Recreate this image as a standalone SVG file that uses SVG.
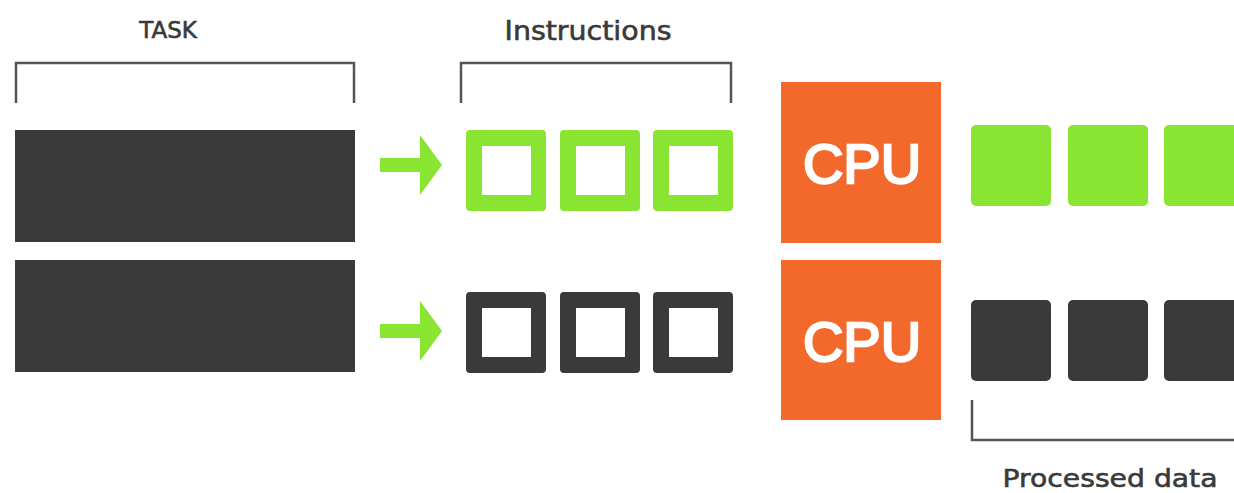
<svg xmlns="http://www.w3.org/2000/svg" width="1234" height="493" viewBox="0 0 1234 493">
<style>
.lbl{font-family:"DejaVu Sans","Liberation Sans",sans-serif;fill:#3a3a3a;text-anchor:middle;stroke:#3a3a3a;stroke-width:0.6}
.brk{fill:none;stroke:#555;stroke-width:2.5}
.task{fill:#3a3a3a}
.g{fill:#8ae532}
.d{fill:#3a3a3a}
.cpu{fill:#f3692c}
.cput{font-family:"Liberation Sans",Arial,sans-serif;font-size:56px;fill:#fff;stroke:#fff;stroke-width:2.4;text-anchor:middle}
</style>
<defs>
<path id="ibox" fill-rule="evenodd" d="M4 0H76Q80 0 80 4V77Q80 81 76 81H4Q0 81 0 77V4Q0 0 4 0ZM16 16V65H65V16Z"/>
<rect id="fbox" width="80" height="81" rx="5"/>
<path id="arr" d="M0 -7H40V-30L62 0L40 30V7H0Z"/>
</defs>
<rect width="1234" height="493" fill="#fff"/>
<g id="labels">
<text class="lbl" x="168" y="38" font-size="23">TASK</text>
<text class="lbl" x="588" y="40" font-size="26" textLength="167" lengthAdjust="spacingAndGlyphs">Instructions</text>
<text class="lbl" x="1110" y="487" font-size="25" textLength="215" lengthAdjust="spacingAndGlyphs">Processed data</text>
</g>
<g id="brackets">
<path class="brk" d="M16 103V63H354V103"/>
<path class="brk" d="M461 103V63H731V103"/>
<path class="brk" d="M972 400V440H1234"/>
</g>
<g id="task1"><rect class="task" x="15" y="130" width="340" height="112"/></g>
<g id="task2"><rect class="task" x="15" y="260" width="340" height="112"/></g>
<g id="connectors">
<use href="#arr" x="380" y="165" class="g"/>
<use href="#arr" x="380" y="331" class="g"/>
</g>
<g id="instr1" class="g">
<use href="#ibox" x="466" y="130"/>
<use href="#ibox" x="560" y="130"/>
<use href="#ibox" x="653" y="130"/>
</g>
<g id="instr2" class="d">
<use href="#ibox" x="466" y="292"/>
<use href="#ibox" x="560" y="292"/>
<use href="#ibox" x="653" y="292"/>
</g>
<g id="cpu1"><rect class="cpu" x="781" y="82" width="160" height="161"/><text class="cput" x="862" y="183">CPU</text></g>
<g id="cpu2"><rect class="cpu" x="781" y="260" width="160" height="160"/><text class="cput" x="862" y="361">CPU</text></g>
<g id="data1" class="g">
<use href="#fbox" x="971" y="125"/>
<use href="#fbox" x="1068" y="125"/>
<use href="#fbox" x="1164" y="125"/>
</g>
<g id="data2" class="d">
<use href="#fbox" x="971" y="300"/>
<use href="#fbox" x="1068" y="300"/>
<use href="#fbox" x="1164" y="300"/>
</g>
</svg>
